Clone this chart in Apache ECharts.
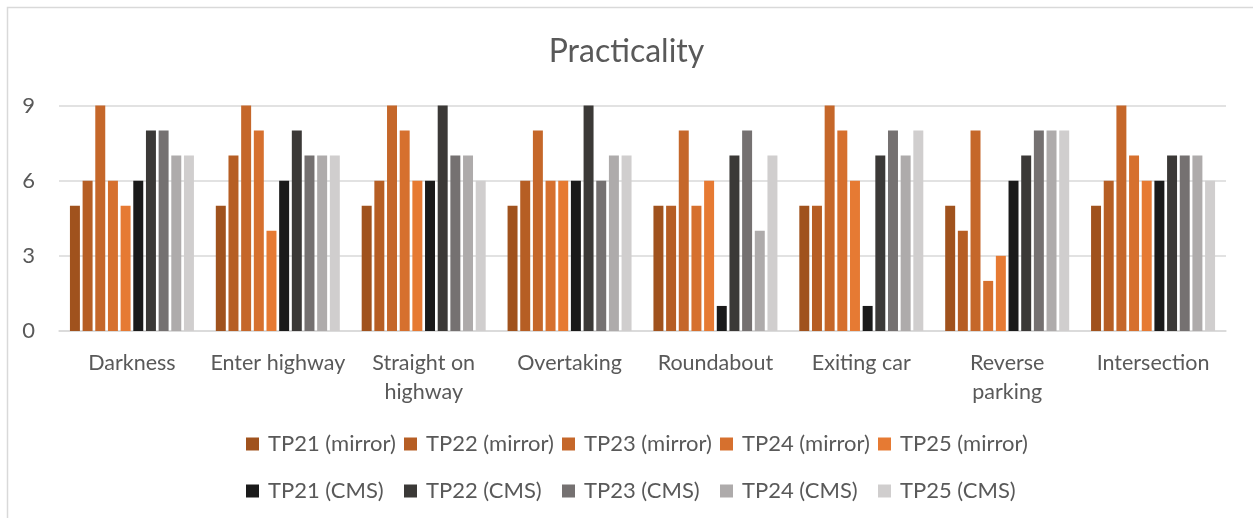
<!DOCTYPE html>
<html>
<head>
<meta charset="utf-8">
<script src="https://cdn.jsdelivr.net/npm/echarts@6/dist/echarts.min.js"></script>
<style>
  html, body { margin: 0; padding: 0; background: #fff; }
  #chart { width: 1253px; height: 518px; }
</style>
</head>
<body>
<div id="chart"></div>
<script>
// Scenarios rated for practicality (scale 0–9)
const categories = ['Darkness', 'Enter highway', 'Straight on\nhighway', 'Overtaking',
                    'Roundabout', 'Exiting car', 'Reverse\nparking', 'Intersection'];
const yTicks = [0, 3, 6, 9];

// Mirror-based test persons
const tp21Mirror = [5, 5, 5, 5, 5, 5, 5, 5];
const tp22Mirror = [6, 7, 6, 6, 5, 5, 4, 6];
const tp23Mirror = [9, 9, 9, 8, 8, 9, 8, 9];
const tp24Mirror = [6, 8, 8, 6, 5, 8, 2, 7];
const tp25Mirror = [5, 4, 6, 6, 6, 6, 3, 6];

// Camera-monitor-system test persons
const tp21Cms = [6, 6, 6, 6, 1, 1, 6, 6];
const tp22Cms = [8, 8, 9, 9, 7, 7, 7, 7];
const tp23Cms = [8, 7, 7, 6, 8, 8, 8, 7];
const tp24Cms = [7, 7, 7, 7, 4, 7, 8, 7];
const tp25Cms = [7, 7, 6, 7, 7, 8, 8, 6];

const seriesNames = ['TP21 (mirror)', 'TP22 (mirror)', 'TP23 (mirror)', 'TP24 (mirror)', 'TP25 (mirror)',
                     'TP21 (CMS)', 'TP22 (CMS)', 'TP23 (CMS)', 'TP24 (CMS)', 'TP25 (CMS)'];
const seriesValues = [tp21Mirror, tp22Mirror, tp23Mirror, tp24Mirror, tp25Mirror,
                      tp21Cms, tp22Cms, tp23Cms, tp24Cms, tp25Cms];
const seriesColors = ['#A0521D', '#B65E24', '#C5672A', '#D6702E', '#E67A33',
                      '#1A1A1A', '#3B3937', '#757171', '#AEABAB', '#D0CECE'];

const textColor = '#595959';
const gridColor = '#D9D9D9';
const fontFamily = 'Lato, "Open Sans", sans-serif';

// Legend laid out as a 5-column grid: mirror entries on the first row, CMS on the second
const legendLeft = 241, legendColumn = 158, legendTops = [428, 475];
const legends = seriesNames.map((name, i) => ({
  data: [name],
  left: legendLeft + (i % 5) * legendColumn,
  top: legendTops[Math.floor(i / 5)],
  itemWidth: 13, itemHeight: 13,
  icon: 'rect',
  textStyle: { color: textColor, fontSize: 22, fontFamily: fontFamily, padding: [0, 0, 0, 4] }
}));

const chart = echarts.init(document.getElementById('chart'), null, { renderer: 'canvas' });

chart.setOption({
  animation: false,
  backgroundColor: '#fff',
  graphic: [{
    type: 'rect',
    shape: { x: 7.5, y: 7.5, width: 1260, height: 530 },
    style: { fill: 'none', stroke: gridColor, lineWidth: 1.5 },
    silent: true
  }],
  title: {
    text: 'Practicality',
    left: 'center',
    top: 31,
    textStyle: { color: textColor, fontSize: 32, fontWeight: 'normal', fontFamily: fontFamily }
  },
  legend: legends,
  grid: { left: 59, right: 27, top: 105.5, bottom: 187 },
  xAxis: {
    type: 'category',
    data: categories,
    axisLine: { show: true, lineStyle: { color: gridColor, width: 1.5 } },
    axisTick: { show: false },
    axisLabel: {
      color: textColor, fontSize: 21.5, fontFamily: fontFamily,
      margin: 18, lineHeight: 29, interval: 0
    }
  },
  yAxis: {
    type: 'value',
    min: yTicks[0],
    max: yTicks[yTicks.length - 1],
    interval: yTicks[1] - yTicks[0],
    axisLine: { show: false },
    axisTick: { show: false },
    splitLine: { lineStyle: { color: gridColor, width: 1.5 } },
    axisLabel: { color: textColor, fontSize: 22, fontFamily: fontFamily, margin: 24 }
  },
  series: seriesNames.map((name, i) => ({
    name: name,
    type: 'bar',
    data: seriesValues[i],
    barGap: '27%',
    barCategoryGap: '15%',
    itemStyle: { color: seriesColors[i] }
  }))
});
</script>
</body>
</html>
